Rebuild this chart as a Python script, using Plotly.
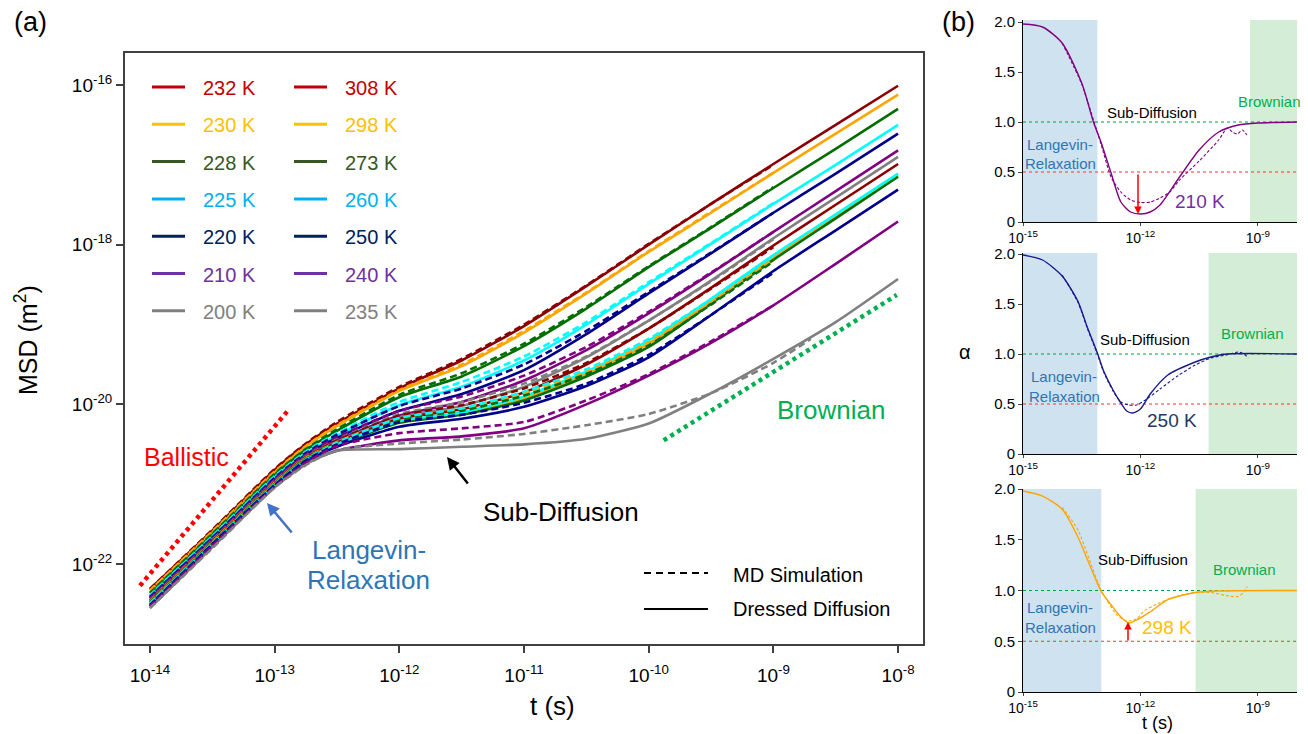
import numpy as np
import plotly.graph_objects as go

W, H = 1308, 734
FONT = "Liberation Sans, Arial, sans-serif"

# ---------------- panel (a) data: log10(t) grid and log10(MSD) ----------------
lt_dd = [-14, -13.5, -13, -12.75, -12.5, -12, -11.5, -11, -10.5, -10, -9.5, -9, -8.5, -8]
lt_md = [-14, -13.5, -13, -12.75, -12.5, -12, -11.5, -11, -10.5, -10, -9.5, -9]
lt_md_200 = [-14, -13.5, -13, -12.75, -12.5, -12, -11.5, -11, -10.5, -10, -9.5, -9, -8.7]

dd_308 = [-22.31, -21.58, -20.82, -20.50, -20.24, -19.80, -19.45, -19.02, -18.52, -18.00, -17.49, -16.99, -16.50, -16.01]
dd_298 = [-22.33, -21.60, -20.85, -20.53, -20.27, -19.83, -19.52, -19.10, -18.61, -18.09, -17.60, -17.10, -16.61, -16.12]
dd_273 = [-22.36, -21.63, -20.88, -20.57, -20.33, -19.91, -19.65, -19.27, -18.80, -18.28, -17.79, -17.29, -16.80, -16.30]
dd_260 = [-22.39, -21.65, -20.91, -20.61, -20.39, -20.01, -19.78, -19.45, -19.00, -18.49, -17.99, -17.49, -17.00, -16.50]
dd_250 = [-22.41, -21.67, -20.93, -20.63, -20.42, -20.08, -19.87, -19.57, -19.12, -18.61, -18.11, -17.60, -17.11, -16.61]
dd_240 = [-22.43, -21.69, -20.95, -20.65, -20.45, -20.14, -19.97, -19.70, -19.32, -18.86, -18.36, -17.84, -17.33, -16.82]
dd_235 = [-22.45, -21.70, -20.96, -20.66, -20.47, -20.16, -20.02, -19.78, -19.41, -18.95, -18.45, -17.92, -17.41, -16.90]
dd_232 = [-22.46, -21.71, -20.97, -20.67, -20.48, -20.18, -20.06, -19.85, -19.50, -19.05, -18.54, -18.01, -17.50, -16.99]
dd_230 = [-22.47, -21.72, -20.98, -20.68, -20.50, -20.22, -20.11, -19.92, -19.62, -19.24, -18.71, -18.16, -17.65, -17.13]
dd_228 = [-22.48, -21.73, -20.99, -20.69, -20.51, -20.23, -20.13, -19.95, -19.65, -19.28, -18.74, -18.19, -17.67, -17.15]
dd_225 = [-22.49, -21.74, -21.00, -20.70, -20.50, -20.21, -20.10, -19.90, -19.59, -19.20, -18.68, -18.13, -17.62, -17.11]
dd_220 = [-22.51, -21.75, -21.01, -20.71, -20.53, -20.28, -20.18, -20.03, -19.77, -19.41, -18.88, -18.33, -17.82, -17.31]
dd_210 = [-22.53, -21.77, -21.03, -20.73, -20.58, -20.45, -20.40, -20.30, -20.00, -19.64, -19.23, -18.76, -18.24, -17.71]
dd_200 = [-22.55, -21.79, -21.04, -20.75, -20.58, -20.56, -20.53, -20.50, -20.43, -20.24, -19.86, -19.43, -18.97, -18.43]

md_308 = [-22.31, -21.57, -20.81, -20.49, -20.22, -19.78, -19.43, -19.00, -18.51, -17.99, -17.49, -17.00]
md_298 = [-22.33, -21.59, -20.84, -20.52, -20.26, -19.82, -19.50, -19.08, -18.60, -18.08, -17.59, -17.10]
md_273 = [-22.36, -21.62, -20.87, -20.56, -20.31, -19.88, -19.61, -19.24, -18.78, -18.27, -17.78, -17.28]
md_260 = [-22.39, -21.65, -20.90, -20.59, -20.36, -19.97, -19.72, -19.40, -18.97, -18.47, -17.98, -17.48]
md_250 = [-22.41, -21.67, -20.92, -20.61, -20.38, -20.02, -19.80, -19.50, -19.08, -18.59, -18.10, -17.60]
md_240 = [-22.43, -21.69, -20.94, -20.63, -20.41, -20.08, -19.90, -19.64, -19.28, -18.84, -18.35, -17.84]
md_235 = [-22.45, -21.70, -20.96, -20.65, -20.44, -20.12, -19.97, -19.74, -19.40, -18.95, -18.46, -17.93]
md_232 = [-22.46, -21.71, -20.97, -20.66, -20.45, -20.14, -20.01, -19.80, -19.48, -19.05, -18.55, -18.03]
md_230 = [-22.47, -21.72, -20.98, -20.67, -20.47, -20.18, -20.06, -19.86, -19.59, -19.22, -18.72, -18.18]
md_228 = [-22.48, -21.73, -20.99, -20.68, -20.48, -20.19, -20.08, -19.89, -19.62, -19.26, -18.75, -18.21]
md_225 = [-22.49, -21.74, -21.00, -20.69, -20.48, -20.17, -20.05, -19.84, -19.56, -19.18, -18.68, -18.14]
md_220 = [-22.51, -21.75, -21.01, -20.70, -20.50, -20.22, -20.13, -19.98, -19.74, -19.38, -18.88, -18.35]
md_210 = [-22.53, -21.77, -21.03, -20.73, -20.52, -20.36, -20.30, -20.22, -19.95, -19.62, -19.21, -18.76]
md_200 = [-22.55, -21.80, -21.04, -20.76, -20.57, -20.49, -20.44, -20.37, -20.26, -20.12, -19.86, -19.48, -19.18]

temps = ["308 K", "298 K", "273 K", "260 K", "250 K", "240 K", "235 K",
         "232 K", "230 K", "228 K", "225 K", "220 K", "210 K", "200 K"]
line_colors = ["#8B0000", "#FFA500", "#006E00", "#00FFFF", "#00008B", "#800080", "#808080",
               "#8B0000", "#FFA500", "#006E00", "#00FFFF", "#00008B", "#800080", "#808080"]

ballistic_lt = [-14.08, -12.90]
ballistic_lm = [-22.27, -20.09]
brownian_lt = [-9.88, -8.01]
brownian_lm = [-20.45, -18.63]

legend_col1 = ["232 K", "230 K", "228 K", "225 K", "220 K", "210 K", "200 K"]
legend_col2 = ["308 K", "298 K", "273 K", "260 K", "250 K", "240 K", "235 K"]
legend_colors = ["#C00000", "#FFC000", "#385723", "#00B0F0", "#002060", "#7030A0", "#808080"]

x_tick_exp = [-14, -13, -12, -11, -10, -9, -8]
y_tick_exp = [-22, -20, -18, -16]

# ---------------- panel (b) data: alpha(t) ----------------
a210_dd_t = [-15, -14.5, -14, -13.5, -13.2, -13, -12.75, -12.5, -12.25, -12, -11.75, -11.5, -11, -10.5, -10, -9.5, -9, -8]
a210_dd = [1.98, 1.95, 1.79, 1.39, 1.0, 0.79, 0.49, 0.2, 0.1, 0.08, 0.1, 0.17, 0.45, 0.72, 0.9, 0.97, 0.99, 1.0]
a210_md_t = [-14, -13.5, -13.2, -13, -12.75, -12.5, -12.25, -12, -11.75, -11.5, -11.25, -11, -10.5, -10, -9.78, -9.65, -9.52, -9.4, -9.28]
a210_md = [1.79, 1.38, 1.02, 0.77, 0.45, 0.30, 0.22, 0.195, 0.20, 0.24, 0.30, 0.42, 0.61, 0.82, 0.94, 0.90, 0.88, 0.92, 0.87]

a250_dd_t = [-15, -14.5, -14, -13.6, -13.35, -13.1, -12.95, -12.7, -12.5, -12.35, -12.2, -12, -11.75, -11.3, -10.6, -10.2, -9.8, -8]
a250_dd = [1.99, 1.94, 1.78, 1.53, 1.26, 1.01, 0.84, 0.64, 0.51, 0.43, 0.41, 0.45, 0.6, 0.79, 0.92, 0.97, 1.0, 1.0]
a250_md_t = [-14, -13.6, -13.35, -13.1, -12.95, -12.7, -12.5, -12.3, -12.1, -11.8, -11.5, -11.05, -10.6, -10.2, -9.8, -9.5, -9.35, -9.25]
a250_md = [1.79, 1.52, 1.25, 1.0, 0.83, 0.63, 0.52, 0.49, 0.49, 0.56, 0.65, 0.78, 0.89, 0.96, 0.99, 1.02, 1.0, 0.96]

a298_dd_t = [-15, -14.5, -14, -13.6, -13.35, -13.1, -13, -12.75, -12.5, -12.3, -12.1, -11.75, -11.3, -10.6, -10, -8]
a298_dd = [1.98, 1.93, 1.8, 1.53, 1.3, 1.07, 0.99, 0.86, 0.74, 0.68, 0.71, 0.79, 0.91, 0.98, 0.995, 1.0]
a298_md_t = [-14, -13.6, -13.3, -13.0, -12.6, -12.35, -12.1, -11.9, -11.5, -11.0, -10.6, -10.2, -9.8, -9.5, -9.35, -9.27]
a298_md = [1.82, 1.6, 1.3, 1.0, 0.76, 0.70, 0.72, 0.8, 0.88, 0.95, 0.98, 0.98, 0.95, 0.94, 0.99, 1.04]

b_colors = ["#800080", "#1A1A8C", "#FFA500"]
b_label_colors = ["#7030A0", "#1F3864", "#FFC000"]
b_labels = ["210 K", "250 K", "298 K"]
shade_blue_end = [-13.10, -13.10, -13.0]
shade_green_start = [-9.2, -10.26, -10.59]
b_ymax = [2.02, 2.013, 2.0]


def px(x):
    return x / W


def py(y):
    return 1 - y / H


def pw(lst):
    return [10.0 ** v for v in lst]


fig = go.Figure()

dd_all = [dd_308, dd_298, dd_273, dd_260, dd_250, dd_240, dd_235,
          dd_232, dd_230, dd_228, dd_225, dd_220, dd_210, dd_200]
md_all = [md_308, md_298, md_273, md_260, md_250, md_240, md_235,
          md_232, md_230, md_228, md_225, md_220, md_210, md_200]

for name, col, vals in zip(temps, line_colors, dd_all):
    fig.add_trace(go.Scatter(x=pw(lt_dd), y=pw(vals), mode="lines", name=name,
                             line=dict(color=col, width=2.6, shape="spline", smoothing=0.6),
                             xaxis="x", yaxis="y", showlegend=False, hoverinfo="skip"))
for name, col, vals in zip(temps, line_colors, md_all):
    tt = lt_md_200 if len(vals) == len(lt_md_200) else lt_md
    fig.add_trace(go.Scatter(x=pw(tt), y=pw(vals), mode="lines", name=name + " MD",
                             line=dict(color=col, width=2.6, dash="7px,4px", shape="spline", smoothing=0.6),
                             xaxis="x", yaxis="y", showlegend=False, hoverinfo="skip"))

fig.add_trace(go.Scatter(x=pw(ballistic_lt), y=pw(ballistic_lm), mode="lines",
                         line=dict(color="#FF0000", width=4.5, dash="4px,4px"),
                         xaxis="x", yaxis="y", showlegend=False, hoverinfo="skip"))
fig.add_trace(go.Scatter(x=pw(brownian_lt), y=pw(brownian_lm), mode="lines",
                         line=dict(color="#00B050", width=4.5, dash="4px,4px"),
                         xaxis="x", yaxis="y", showlegend=False, hoverinfo="skip"))

# ---------------- panel (b) ----------------
b_data = [(a210_dd_t, a210_dd, a210_md_t, a210_md),
          (a250_dd_t, a250_dd, a250_md_t, a250_md),
          (a298_dd_t, a298_dd, a298_md_t, a298_md)]
for i, (tdd, add, tmd, amd) in enumerate(b_data):
    xa, ya = "x%d" % (i + 2), "y%d" % (i + 2)
    ymax = b_ymax[i]
    xb = 10 ** shade_blue_end[i]
    xg = 10 ** shade_green_start[i]
    fig.add_trace(go.Scatter(x=[1e-15, xb, xb, 1e-15, 1e-15], y=[0, 0, ymax, ymax, 0], mode="lines",
                             fill="toself", fillcolor="#CFE2F0", line=dict(width=0),
                             xaxis=xa, yaxis=ya, showlegend=False, hoverinfo="skip"))
    fig.add_trace(go.Scatter(x=[xg, 1e-8, 1e-8, xg, xg], y=[0, 0, ymax, ymax, 0], mode="lines",
                             fill="toself", fillcolor="#D4EDD6", line=dict(width=0),
                             xaxis=xa, yaxis=ya, showlegend=False, hoverinfo="skip"))
    fig.add_trace(go.Scatter(x=[1e-15, 1e-8], y=[1.0, 1.0], mode="lines",
                             line=dict(color="#00A040", width=1, dash="dot"),
                             xaxis=xa, yaxis=ya, showlegend=False, hoverinfo="skip"))
    fig.add_trace(go.Scatter(x=[1e-15, 1e-8], y=[0.5, 0.5], mode="lines",
                             line=dict(color="#FF3030", width=1, dash="dot"),
                             xaxis=xa, yaxis=ya, showlegend=False, hoverinfo="skip"))
    fig.add_trace(go.Scatter(x=pw(tmd), y=amd, mode="lines",
                             line=dict(color=b_colors[i], width=1.1, dash="3px,2px", shape="spline", smoothing=0.7),
                             xaxis=xa, yaxis=ya, showlegend=False, hoverinfo="skip"))
    fig.add_trace(go.Scatter(x=pw(tdd), y=add, mode="lines",
                             line=dict(color=b_colors[i], width=1.4, shape="spline", smoothing=0.7),
                             xaxis=xa, yaxis=ya, showlegend=False, hoverinfo="skip"))

# ---------------- layout ----------------
sup = lambda e: "10<sup>%d</sup>" % e
tick_font = dict(family=FONT, size=19, color="black")

layout = dict(
    width=W, height=H, margin=dict(l=0, r=0, t=0, b=0, autoexpand=False),
    paper_bgcolor="white", plot_bgcolor="white",
    font=dict(family=FONT, color="black"),
    xaxis=dict(type="log", domain=[px(125), px(923)], range=[-14.2, -7.8], anchor="y",
               showline=True, mirror=True, linecolor="#404040", linewidth=2,
               ticks="outside", ticklen=7, tickwidth=1.5, tickcolor="#404040", ticklabelstandoff=6,
               tickvals=[10.0 ** e for e in x_tick_exp], ticktext=[sup(e) for e in x_tick_exp],
               tickfont=tick_font, showgrid=False, zeroline=False, automargin=False),
    yaxis=dict(type="log", domain=[py(644), py(53)], range=[-23.0, -15.6], anchor="x",
               showline=True, mirror=True, linecolor="#404040", linewidth=2,
               ticks="outside", ticklen=7, tickwidth=1.5, tickcolor="#404040",
               tickvals=[10.0 ** e for e in y_tick_exp], ticktext=[sup(e) for e in y_tick_exp],
               tickfont=tick_font, showgrid=False, zeroline=False, automargin=False),
)
b_dom = [(py(222), py(20)), (py(454), py(252.7)), (py(692), py(489))]
for i in range(3):
    k = i + 2
    layout["xaxis%d" % k] = dict(type="log", domain=[px(1023), px(1297)], range=[-15, -8], anchor="y%d" % k,
                                 showline=True, linecolor="black", linewidth=1, ticks="outside", ticklen=3,
                                 tickvals=[1e-15, 1e-12, 1e-9], ticktext=[sup(-15), sup(-12), sup(-9)],
                                 tickfont=dict(family=FONT, size=14, color="black"),
                                 showgrid=False, zeroline=False, automargin=False)
    layout["yaxis%d" % k] = dict(domain=list(b_dom[i]), range=[0, b_ymax[i]], anchor="x%d" % k,
                                 showline=True, linecolor="black", linewidth=1, ticks="outside", ticklen=4,
                                 tickvals=[0, 0.5, 1.0, 1.5, 2.0], ticktext=["0", "0.5", "1.0", "1.5", "2.0"],
                                 tickfont=dict(family=FONT, size=15, color="black"),
                                 showgrid=False, zeroline=False, automargin=False)
fig.update_layout(**layout)

ann = []
shapes = []


def text(x, y, s, size, color="black", **kw):
    d = dict(x=px(x), y=py(y), xref="paper", yref="paper", text=s, showarrow=False,
             font=dict(family=FONT, size=size, color=color), xanchor="center", yanchor="middle")
    d.update(kw)
    ann.append(d)


# legend of temperatures
for j, (n1, n2, c) in enumerate(zip(legend_col1, legend_col2, legend_colors)):
    yy = 87 + 37.3 * j
    shapes.append(dict(type="line", xref="paper", yref="paper", x0=px(152), x1=px(185), y0=py(yy), y1=py(yy),
                       line=dict(color=c, width=3)))
    shapes.append(dict(type="line", xref="paper", yref="paper", x0=px(294), x1=px(327), y0=py(yy), y1=py(yy),
                       line=dict(color=c, width=3)))
    text(201, yy + 1, n1, 20, c, xanchor="left")
    text(343, yy + 1, n2, 20, c, xanchor="left")

# style legend
shapes.append(dict(type="line", xref="paper", yref="paper", x0=px(644), x1=px(708), y0=py(573), y1=py(573),
                   line=dict(color="black", width=2, dash="7px,5px")))
shapes.append(dict(type="line", xref="paper", yref="paper", x0=px(644), x1=px(708), y0=py(609), y1=py(609),
                   line=dict(color="black", width=2)))
text(731, 575, "MD Simulation", 20, xanchor="left")
text(731, 609, "Dressed Diffusion", 20, xanchor="left")

# panel (a) labels
text(30, 22, "(a)", 27)
text(186, 457, "Ballistic", 25, "#FF0000")
text(369, 550, "Langevin-", 26, "#2E75B6")
text(369, 580, "Relaxation", 26, "#2E75B6")
text(561, 512, "Sub-Diffusion", 26)
text(831, 410, "Brownian", 26, "#00B050")
text(552, 706, "t (s)", 26)
text(26, 340, "MSD (m<sup>2</sup>)", 25, textangle=-90)
ann.append(dict(x=px(447), y=py(457), xref="paper", yref="paper", ax=22, ay=28, text="",
                showarrow=True, arrowhead=2, arrowsize=1, arrowwidth=2.5, arrowcolor="black"))
ann.append(dict(x=px(267), y=py(503), xref="paper", yref="paper", ax=26, ay=31, text="",
                showarrow=True, arrowhead=2, arrowsize=1, arrowwidth=2.5, arrowcolor="#4472C4"))

# panel (b) labels
text(959, 22, "(b)", 27)
b_pos = [dict(sub=(1152, 112), br=(1269, 102), lan=(1060, 145), rel=(1060, 164), lab=(1200, 201)),
         dict(sub=(1145, 340), br=(1252, 333), lan=(1064, 376), rel=(1064, 396), lab=(1172, 420)),
         dict(sub=(1143, 559), br=(1244, 569), lan=(1060, 607), rel=(1060, 627), lab=(1167, 627))]
for i, p in enumerate(b_pos):
    text(*p["sub"], "Sub-Diffusion", 15)
    text(*p["br"], "Brownian", 15, "#00B050")
    text(*p["lan"], "Langevin-", 15, "#2E75B6")
    text(*p["rel"], "Relaxation", 15, "#2E75B6")
    text(*p["lab"], b_labels[i], 19, b_label_colors[i])
ann.append(dict(x=px(1138), y=py(214), xref="paper", yref="paper", ax=0, ay=-41, text="",
                showarrow=True, arrowhead=2, arrowsize=1, arrowwidth=1.5, arrowcolor="#FF0000"))
ann.append(dict(x=px(1128), y=py(622), xref="paper", yref="paper", ax=0, ay=20, text="",
                showarrow=True, arrowhead=2, arrowsize=1, arrowwidth=1.5, arrowcolor="#FF0000"))
text(965, 352, "α", 20)
text(1157, 723, "t (s)", 18)

fig.update_layout(annotations=ann, shapes=shapes)
fig.write_html("out.html", config={"displayModeBar": False},
               post_script="document.body.style.margin='0px';document.body.style.overflow='hidden';")
